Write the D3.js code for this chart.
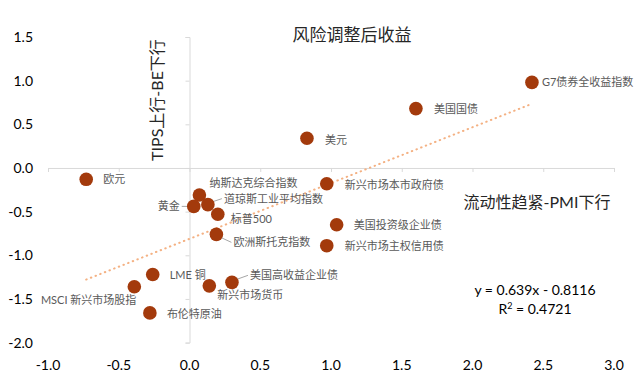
<!DOCTYPE html>
<html>
<head>
<meta charset="utf-8">
<script src="https://cdn.jsdelivr.net/npm/d3@7"></script>
<style>
  body { margin: 0; background: #fff; }
  svg { font-family: 'Lato', 'Noto Sans CJK SC', sans-serif; }
</style>
</head>
<body>
<svg id="chart" width="640" height="384"></svg>
<script>
// data
const names = ['欧元', '美元', '美国国债', 'G7债券全收益指数', '新兴市场本市政府债',
  '纳斯达克综合指数', '黄金', '道琼斯工业平均指数', '标普500', '欧洲斯托克指数',
  'LME 铜', 'MSCI 新兴市场股指', '布伦特原油', '新兴市场货币', '美国高收益企业债',
  '美国投资级企业债', '新兴市场主权信用债']
const xs = [-0.73, 0.83, 1.60, 2.42, 0.97, 0.07, 0.03, 0.13, 0.20, 0.19,
  -0.26, -0.39, -0.28, 0.14, 0.30, 1.04, 0.97]
const ys = [-0.13, 0.34, 0.68, 0.98, -0.18, -0.31, -0.44, -0.42, -0.53, -0.76,
  -1.22, -1.36, -1.66, -1.35, -1.31, -0.65, -0.89]
const xTicks = [-1.0, -0.5, 0.0, 0.5, 1.0, 1.5, 2.0, 2.5, 3.0]
const yTicks = [1.5, 1.0, 0.5, 0.0, -0.5, -1.0, -1.5, -2.0]
const slope = 0.639
const intercept = -0.8116
const r2 = 0.4721

// label placement relative to each point: [dx, dy, anchor, leader]
const labelPos = [
  [17, 0, 'start'], [18, 2, 'start'], [18, 0, 'start'], [10, 0, 'start'], [18, 1, 'start'],
  [10, -12, 'start'], [-14, 0, 'end', true], [16, -6, 'start', true], [13, 5, 'start'], [17, 8, 'start', true],
  [17, 1, 'start'], [2, 13, 'end'], [17, 1, 'start'], [8, 9, 'start'], [18, -7, 'start', true],
  [17, 0, 'start'], [18, 0, 'start']
]

const svg = d3.select('#chart')
const x = d3.scaleLinear().domain([-1, 3]).range([48, 614])
const y = d3.scaleLinear().domain([-2, 1.5]).range([342.6, 37])

// axes through the origin, ticks only
const xAxis = svg.append('g')
  .attr('transform', `translate(0,${y(0)})`)
  .call(d3.axisBottom(x).tickValues(xTicks).tickSize(4).tickSizeOuter(4).tickFormat(''))
const yAxis = svg.append('g')
  .attr('transform', `translate(${x(0)},0)`)
  .call(d3.axisLeft(y).tickValues(yTicks).tickSize(4).tickSizeOuter(4).tickFormat(''))
svg.selectAll('.domain, .tick line').attr('stroke', '#d9d9d9')

// tick labels sit at the low edge
svg.append('g').selectAll('text').data(xTicks).enter().append('text')
  .attr('x', d => x(d))
  .attr('y', 370)
  .attr('text-anchor', 'middle')
  .style('font-size', '14px')
  .style('fill', '#000')
  .text(d => d.toFixed(1))
svg.append('g').selectAll('text').data(yTicks).enter().append('text')
  .attr('x', 33)
  .attr('y', d => y(d) + 5)
  .attr('text-anchor', 'end')
  .style('font-size', '14px')
  .style('fill', '#000')
  .text(d => d.toFixed(1))

// trend line over the data range
const xMin = d3.min(xs), xMax = d3.max(xs)
svg.append('line')
  .attr('x1', x(xMin)).attr('y1', y(slope * xMin + intercept))
  .attr('x2', x(xMax)).attr('y2', y(slope * xMax + intercept))
  .style('stroke', '#f4b183')
  .style('stroke-width', 2)
  .style('stroke-linecap', 'round')
  .style('stroke-dasharray', '0.5,4.5')

const pts = names.map((n, i) => ({ name: n, x: xs[i], y: ys[i], lp: labelPos[i] }))

// leader lines
svg.append('g').selectAll('line').data(pts.filter(p => p.lp[3])).enter().append('line')
  .attr('x1', p => x(p.x) + (p.lp[2] === 'end' ? -3 : 2))
  .attr('y1', p => y(p.y) + Math.sign(p.lp[1]) * 2)
  .attr('x2', p => x(p.x) + p.lp[0] + (p.lp[2] === 'end' ? 2 : -2))
  .attr('y2', p => y(p.y) + p.lp[1])
  .style('stroke', '#a6a6a6')
  .style('stroke-width', 1)

svg.append('g').selectAll('circle').data(pts).enter().append('circle')
  .attr('cx', p => x(p.x))
  .attr('cy', p => y(p.y))
  .attr('r', 6.8)
  .style('fill', '#a33a0c')

svg.append('g').selectAll('text').data(pts).enter().append('text')
  .attr('x', p => x(p.x) + p.lp[0])
  .attr('y', p => y(p.y) + p.lp[1] + 4)
  .attr('text-anchor', p => p.lp[2])
  .style('font-size', '11px')
  .style('fill', '#595959')
  .text(p => p.name)

// titles
svg.append('text')
  .attr('x', 352).attr('y', 41)
  .attr('text-anchor', 'middle')
  .style('font-size', '17px')
  .style('fill', '#262626')
  .text('风险调整后收益')
svg.append('text')
  .attr('transform', 'translate(163,100) rotate(-90)')
  .attr('text-anchor', 'middle')
  .style('font-size', '16px')
  .style('fill', '#262626')
  .text('TIPS上行-BE下行')
svg.append('text')
  .attr('x', 537).attr('y', 208)
  .attr('text-anchor', 'middle')
  .style('font-size', '16px')
  .style('fill', '#262626')
  .text('流动性趋紧-PMI下行')

// regression text
const eq = svg.append('text')
  .attr('text-anchor', 'middle')
  .style('font-size', '14px')
  .style('fill', '#000')
eq.append('tspan').attr('x', 535).attr('y', 295)
  .text(`y = ${slope}x - ${Math.abs(intercept)}`)
const r2Line = eq.append('tspan').attr('x', 535).attr('y', 314)
r2Line.append('tspan').text('R')
r2Line.append('tspan').attr('dy', -5).style('font-size', '9px').text('2')
r2Line.append('tspan').attr('dy', 5).text(` = ${r2}`)
</script>
</body>
</html>
